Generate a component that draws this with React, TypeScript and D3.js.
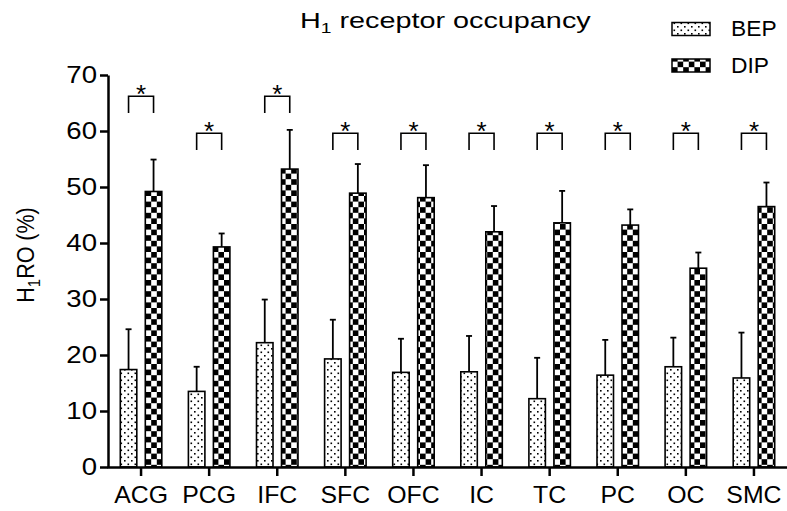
import React, { useEffect, useRef } from "react";
import * as d3 from "d3";

const categories = ["ACG", "PCG", "IFC", "SFC", "OFC", "IC", "TC", "PC", "OC", "SMC"];
const bepMean = [17.4, 13.5, 22.2, 19.3, 16.9, 17.0, 12.2, 16.4, 17.9, 15.9];
const bepSD = [7.2, 4.4, 7.7, 7.0, 6.0, 6.4, 7.3, 6.3, 5.2, 8.1];
const dipMean = [49.2, 39.3, 53.2, 48.9, 48.1, 42.0, 43.6, 43.2, 35.5, 46.5];
const dipSD = [5.7, 2.4, 7.0, 5.2, 5.8, 4.6, 5.7, 2.8, 2.8, 4.3];
const sigLevel = [66.2, 59.6, 66.2, 59.6, 59.6, 59.6, 59.6, 59.6, 59.6, 59.6];
const yTicks = [0, 10, 20, 30, 40, 50, 60, 70];

const FONT = "'Liberation Sans', Arial, sans-serif";

export default function App() {
  const ref = useRef<SVGSVGElement>(null);

  useEffect(() => {
    const svg = d3.select(ref.current);
    svg.selectAll("*").remove();

    const width = 787;
    const height = 511;
    svg.attr("width", width).attr("height", height);

    const x = d3.scaleBand().domain(categories).range([107, 788]).padding(0);
    const y = d3.scaleLinear().domain([0, 70]).range([467, 75]);
    const bw = x.bandwidth();
    const barW = 16.5;
    const off = 12.5;

    // patterns
    const defs = svg.append("defs");
    const dots = defs.append("pattern")
      .attr("id", "dots")
      .attr("patternUnits", "userSpaceOnUse")
      .attr("width", 7).attr("height", 7);
    dots.append("rect").attr("width", 7).attr("height", 7).attr("fill", "#fff");
    dots.append("rect").attr("x", 1.5).attr("y", 1.5).attr("width", 1.6).attr("height", 1.6).attr("fill", "#000");
    dots.append("rect").attr("x", 5).attr("y", 5).attr("width", 1.6).attr("height", 1.6).attr("fill", "#000");

    const cell = 5.6;
    const check = defs.append("pattern")
      .attr("id", "check")
      .attr("patternUnits", "userSpaceOnUse")
      .attr("width", cell * 2).attr("height", cell * 2);
    check.append("rect").attr("width", cell * 2).attr("height", cell * 2).attr("fill", "#fff");
    check.append("rect").attr("width", cell).attr("height", cell).attr("fill", "#000");
    check.append("rect").attr("x", cell).attr("y", cell).attr("width", cell).attr("height", cell).attr("fill", "#000");

    // title (text in the source is a bit wider than Arial, hence the x stretch)
    const title = svg.append("text")
      .attr("transform", "translate(300,28) scale(1.28,1)")
      .attr("font-family", FONT).attr("font-size", 22.5);
    title.append("tspan").text("H");
    title.append("tspan").attr("font-size", 15).attr("dy", 5).text("1");
    title.append("tspan").attr("dy", -5).text(" receptor occupancy");

    // legend
    const legend = [
      { label: "BEP", fill: "url(#dots)", y: 22.5 },
      { label: "DIP", fill: "url(#check)", y: 59 },
    ];
    legend.forEach(l => {
      svg.append("rect")
        .attr("x", 672).attr("y", l.y).attr("width", 38).attr("height", 13)
        .attr("fill", l.fill).attr("stroke", "#000").attr("stroke-width", 1.5);
      svg.append("text")
        .attr("transform", `translate(731,${l.y + 13.5}) scale(1.06,1)`)
        .attr("font-family", FONT).attr("font-size", 21.5)
        .text(l.label);
    });

    // bars
    const series = [
      { mean: bepMean, sd: bepSD, fill: "url(#dots)", dx: -off },
      { mean: dipMean, sd: dipSD, fill: "url(#check)", dx: off },
    ];
    series.forEach(s => {
      const g = svg.append("g");
      categories.forEach((c, i) => {
        const cx = (x(c) as number) + bw / 2 + s.dx;
        const top = y(s.mean[i]);
        const errTop = y(s.mean[i] + s.sd[i]);
        g.append("line")
          .attr("x1", cx).attr("x2", cx).attr("y1", top).attr("y2", errTop)
          .attr("stroke", "#000").attr("stroke-width", 1.8);
        g.append("line")
          .attr("x1", cx - 3).attr("x2", cx + 3).attr("y1", errTop).attr("y2", errTop)
          .attr("stroke", "#000").attr("stroke-width", 1.8);
        g.append("rect")
          .attr("x", cx - barW / 2).attr("y", top)
          .attr("width", barW).attr("height", y(0) - top)
          .attr("fill", s.fill).attr("stroke", "#000").attr("stroke-width", 1.6);
      });
    });

    // significance brackets
    const sig = svg.append("g");
    categories.forEach((c, i) => {
      const cx = (x(c) as number) + bw / 2;
      const yt = y(sigLevel[i]);
      const yb = y(sigLevel[i] - 3);
      sig.append("path")
        .attr("d", `M${cx - off},${yb}V${yt}H${cx + off}V${yb}`)
        .attr("fill", "none").attr("stroke", "#000").attr("stroke-width", 1.6);
      sig.append("text")
        .attr("x", cx).attr("y", yt + 6.5)
        .attr("text-anchor", "middle")
        .attr("font-family", FONT).attr("font-size", 26)
        .text("*");
    });

    // y axis
    const yAxis = svg.append("g")
      .attr("transform", "translate(108,0)")
      .call(d3.axisLeft(y).tickValues(yTicks).tickSize(8).tickSizeOuter(0).tickPadding(3));
    yAxis.select(".domain").attr("stroke-width", 2.5);
    yAxis.selectAll(".tick line").attr("stroke-width", 2.5);
    yAxis.selectAll(".tick text")
      .attr("x", null)
      .attr("transform", "translate(-11,0) scale(1.2,1)")
      .attr("font-family", FONT).attr("font-size", 23).attr("fill", "#000");

    // x axis
    const xAxis = svg.append("g")
      .attr("transform", "translate(0,467)")
      .call(d3.axisBottom(x).tickSize(9).tickSizeOuter(0).tickPadding(11));
    xAxis.select(".domain").attr("stroke-width", 2.5);
    xAxis.selectAll(".tick line").attr("stroke-width", 2.5);
    xAxis.selectAll(".tick text")
      .attr("transform", "scale(1.08,1)")
      .attr("font-family", FONT).attr("font-size", 23).attr("fill", "#000");

    // y label
    const yl = svg.append("text")
      .attr("transform", "translate(34,255) scale(1.15,1) rotate(-90)")
      .attr("text-anchor", "middle")
      .attr("font-family", FONT).attr("font-size", 21.5);
    yl.append("tspan").text("H");
    yl.append("tspan").attr("font-size", 15).attr("dy", 5).text("1");
    yl.append("tspan").attr("dy", -5).text("RO (%)");
  }, []);

  return (
    <svg ref={ref} style={{ position: "absolute", left: 0, top: 0, background: "#fff" }}></svg>
  );
}
